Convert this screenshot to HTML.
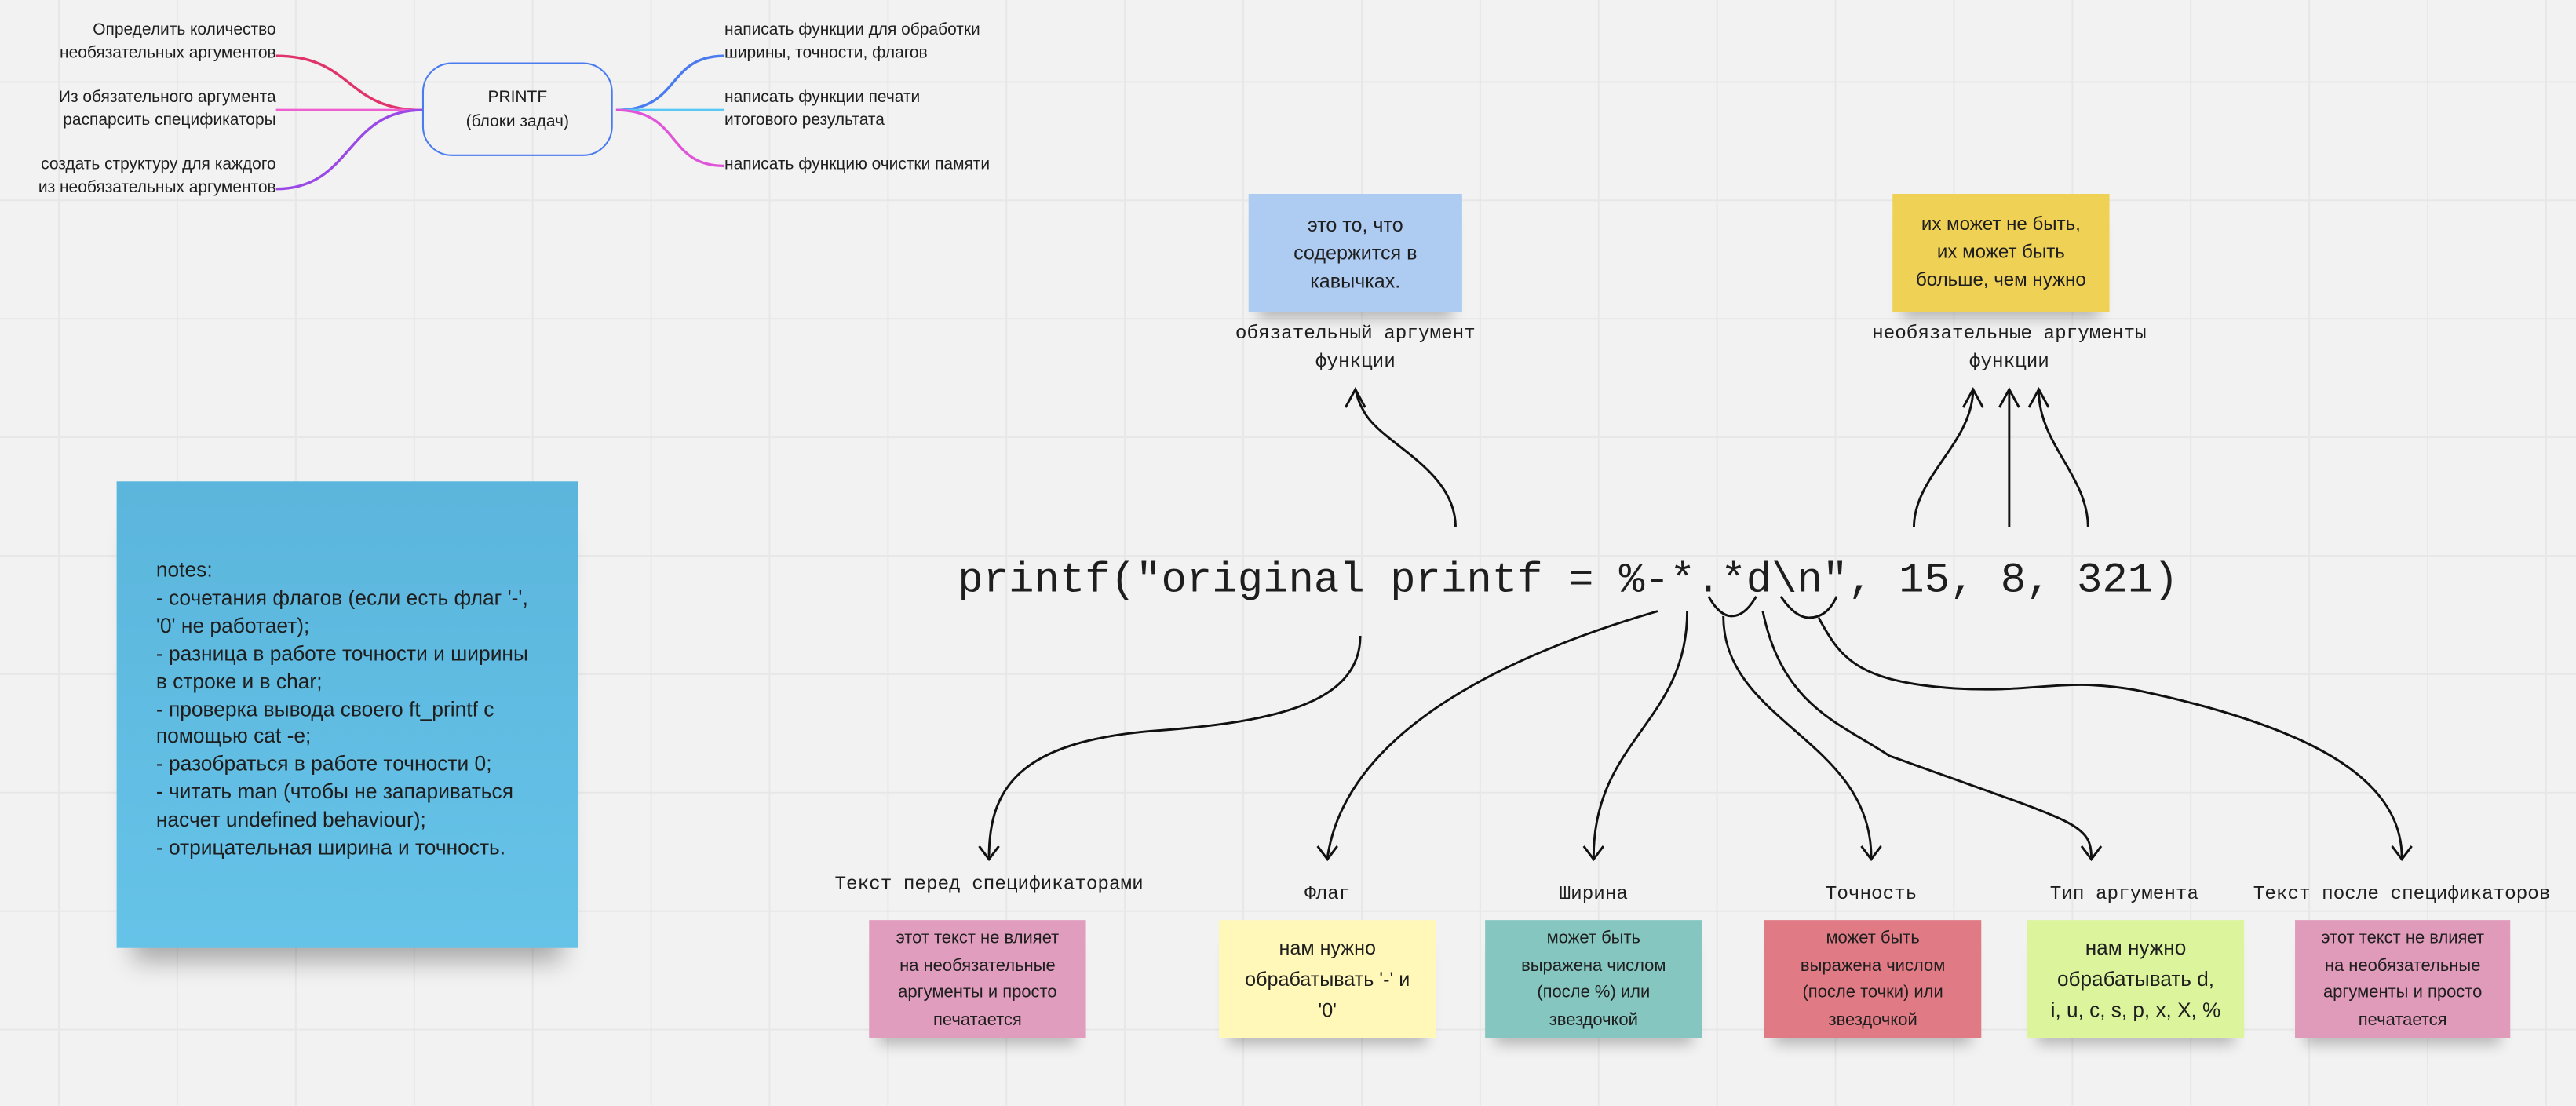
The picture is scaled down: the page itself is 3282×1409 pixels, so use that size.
<!DOCTYPE html>
<html><head><meta charset="utf-8"><style>
html,body{margin:0;padding:0;width:3282px;height:1408px;overflow:hidden;background:#f2f2f2}
#w{position:absolute;left:0;top:0;width:1568px;height:673px;transform:scale(2.0931);transform-origin:0 0;
background-color:#f2f2f2;
background-image:linear-gradient(to right,#e7e7e7 1px,transparent 1px),linear-gradient(to bottom,#e7e7e7 1px,transparent 1px);
background-size:72.1px 72.1px;background-position:35.4px 49.4px;
font-family:"Liberation Sans","Noto Sans CJK SC",sans-serif;color:#1e1e1e}
.a{position:absolute}
.mm{font-size:10px;line-height:14px;position:absolute;white-space:nowrap}
.r{text-align:right}
.st{position:absolute;display:flex;align-items:center;justify-content:center;text-align:center;box-shadow:0 10px 8px -6px rgba(0,0,0,.25);}
.lb{position:absolute;font-family:"Liberation Mono",monospace;font-size:11.6px;white-space:nowrap;transform:translateX(-50%);text-align:center;line-height:17px}
.s11{font-size:10.5px;line-height:16.5px}
.s13{font-size:12.5px;line-height:19px}
</style></head><body><div id="w">
<svg class="a" style="left:0;top:0" width="1568" height="673" viewBox="0 0 1568 673">
<g fill="none" stroke-width="1.6">
<path d="M168,34 C215,34 210,67 257,67" stroke="#e0336a"/>
<path d="M168,67 L257,67" stroke="#ee5fd0"/>
<path d="M168,115 C215,115 210,67 257,67" stroke="#9a48e6"/>
<path d="M375,67 C415,67 405,34 441,34" stroke="#4a7cf0"/>
<path d="M375,67 L441,67" stroke="#5ac8f5"/>
<path d="M375,67 C415,67 405,101 441,101" stroke="#e055d8"/>
</g>
<g fill="none" stroke="#111" stroke-width="1.4">
<path d="M886,321 C886,285 840,270 830,250 C826,243 826,240 825,237"/>
<path d="M819,248 L825,237 L831,248"/>
<path d="M1165,321 C1165,290 1200,270 1201,238"/>
<path d="M1195,248 L1201,237 L1207,248"/>
<path d="M1223,321 L1223,238"/>
<path d="M1217,248 L1223,237 L1229,248"/>
<path d="M1271,321 C1271,290 1241,270 1241,238"/>
<path d="M1235,248 L1241,237 L1247,248"/>
<path d="M828,387 C828,430 770,440 700,445 C620,452 602,480 602,522"/>
<path d="M596,515 L602,523 L608,515"/>
<path d="M1009,372 C930,395 820,440 808,522"/>
<path d="M802,515 L808,523 L814,515"/>
<path d="M1027,372 C1027,440 970,450 970,522"/>
<path d="M964,515 L970,523 L976,515"/>
<path d="M1040,363 C1045,372 1050,375 1054,375 C1060,375 1065,370 1069,363"/>
<path d="M1049,375 C1049,440 1139,450 1139,522"/>
<path d="M1133,515 L1139,523 L1145,515"/>
<path d="M1073,372 C1085,430 1120,440 1150,460 C1260,500 1273,500 1273,522"/>
<path d="M1267,515 L1273,523 L1279,515"/>
<path d="M1084,363 C1090,372 1096,376 1101,376 C1108,376 1114,372 1118,363"/>
<path d="M1107,376 C1120,400 1130,415 1190,419 C1240,422 1255,412 1300,420 C1420,445 1462,480 1462,522"/>
<path d="M1456,515 L1462,523 L1468,515"/>
</g>
</svg>
<div class="mm r" style="right:1400px;top:12px">Определить количество<br>необязательных аргументов</div>
<div class="mm r" style="right:1400px;top:53px">Из обязательного аргумента<br>распарсить спецификаторы</div>
<div class="mm r" style="right:1400px;top:94px">создать структуру для каждого<br>из необязательных аргументов</div>
<div class="mm" style="left:441px;top:12px">написать функции для обработки<br>ширины, точности, флагов</div>
<div class="mm" style="left:441px;top:53px">написать функции печати<br>итогового результата</div>
<div class="mm" style="left:441px;top:94px">написать функцию очистки памяти</div>
<div class="a" style="left:257px;top:38px;width:114px;height:55px;border:1.6px solid #4a7cf0;border-radius:18px;display:flex;align-items:center;justify-content:center;text-align:center;font-size:10px;line-height:15px">PRINTF<br>(блоки задач)</div>

<div class="st" style="left:760px;top:118px;width:130px;height:72px;background:#aecbf2;font-size:12px;line-height:17px">это то, что<br>содержится в<br>кавычках.</div>
<div class="st" style="left:1152px;top:118px;width:132px;height:72px;background:#efd155;font-size:11.5px;line-height:17px">их может не быть,<br>их может быть<br>больше, чем нужно</div>
<div class="lb" style="left:825px;top:195px">обязательный аргумент<br>функции</div>
<div class="lb" style="left:1223px;top:195px">необязательные аргументы<br>функции</div>

<div class="a" style="left:583px;top:337px;font-family:'Liberation Mono',monospace;font-size:25.8px;line-height:34px;white-space:pre;color:#1e1e1e">printf("original printf = %-*.*d\n", 15, 8, 321)</div>

<div class="lb" style="left:602px;top:530px">Текст перед спецификаторами</div>
<div class="lb" style="left:808px;top:536px">Флаг</div>
<div class="lb" style="left:970px;top:536px">Ширина</div>
<div class="lb" style="left:1139px;top:536px">Точность</div>
<div class="lb" style="left:1293px;top:536px">Тип аргумента</div>
<div class="lb" style="left:1462px;top:536px">Текст после спецификаторов</div>

<div class="st s11" style="left:529px;top:560px;width:132px;height:72px;background:#e09dbe">этот текст не влияет<br>на необязательные<br>аргументы и просто<br>печатается</div>
<div class="st s13" style="left:742px;top:560px;width:132px;height:72px;background:#fff8b8;font-size:12px">нам нужно<br>обрабатывать '-' и<br>'0'</div>
<div class="st s11" style="left:904px;top:560px;width:132px;height:72px;background:#85c6c0">может быть<br>выражена числом<br>(после %) или<br>звездочкой</div>
<div class="st s11" style="left:1074px;top:560px;width:132px;height:72px;background:#e07a84">может быть<br>выражена числом<br>(после точки) или<br>звездочкой</div>
<div class="st s13" style="left:1234px;top:560px;width:132px;height:72px;background:#dcf59c">нам нужно<br>обрабатывать d,<br>i, u, c, s, p, x, X, %</div>
<div class="st s11" style="left:1397px;top:560px;width:131px;height:72px;background:#e09aba">этот текст не влияет<br>на необязательные<br>аргументы и просто<br>печатается</div>

<div class="a" style="left:71px;top:293px;width:281px;height:284px;background:linear-gradient(#5bb5dc,#66c3e8);box-shadow:0 18px 14px -10px rgba(0,0,0,.3)"></div>
<div class="a" style="left:95px;top:339px;font-size:12.6px;line-height:16.9px;color:#1e1e1e;white-space:nowrap">notes:<br>- сочетания флагов (если есть флаг '-',<br>'0' не работает);<br>- разница в работе точности и ширины<br>в строке и в char;<br>- проверка вывода своего ft_printf с<br>помощью cat -e;<br>- разобраться в работе точности 0;<br>- читать man (чтобы не запариваться<br>насчет undefined behaviour);<br>- отрицательная ширина и точность.</div>
</div></body></html>
